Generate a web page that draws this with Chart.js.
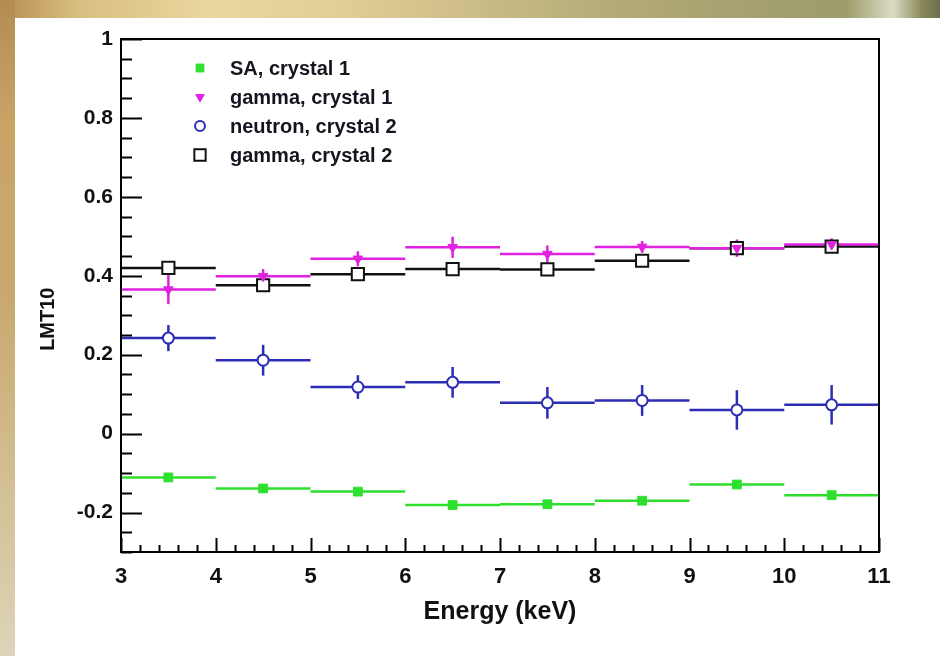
<!DOCTYPE html>
<html>
<head>
<meta charset="utf-8">
<script src="https://cdn.jsdelivr.net/npm/chart.js@4/dist/chart.umd.min.js"></script>
<style>
  html, body { margin: 0; padding: 0; }
  body { width: 940px; height: 656px; position: relative; overflow: hidden; background: #ffffff; }
  #frameTop {
    position: absolute; left: 0; top: 0; width: 940px; height: 18px;
    background: linear-gradient(90deg, #b48c52 0%, #d8bd80 8%, #ead79e 22%, #e2cf96 35%, #cdbd86 50%, #b4ab78 65%, #a4a070 80%, #9c9c6c 90%, #dcdcc4 95%, #8a8a5c 98%, #6e6e4c 100%);
  }
  #frameLeft {
    position: absolute; left: 0; top: 0; width: 15px; height: 656px;
    background: linear-gradient(180deg, #b48c52 0%, #c9a566 20%, #c8a86e 45%, #d2bc8e 70%, #ddd4ba 100%);
  }
  #panel { position: absolute; left: 15px; top: 18px; width: 925px; height: 638px; background: #ffffff; }
  canvas { display: block; }
</style>
</head>
<body>
<div id="frameTop"></div>
<div id="frameLeft"></div>
<div id="panel"><canvas id="chart" width="925" height="638"></canvas></div>
<script>
// Bin centres (keV); each bin spans +/- binHalfWidth
const energy = [3.5, 4.5, 5.5, 6.5, 7.5, 8.5, 9.5, 10.5];
const binHalfWidth = 0.5;

// LMT10 per energy bin with statistical uncertainties
const saCrystal1 = [-0.111, -0.139, -0.147, -0.181, -0.179, -0.170, -0.129, -0.156];
const saCrystal1Err = [0.008, 0.007, 0.007, 0.008, 0.008, 0.008, 0.008, 0.007];
const gammaCrystal1 = [0.365, 0.399, 0.443, 0.472, 0.455, 0.473, 0.470, 0.479];
const gammaCrystal1Err = [0.037, 0.018, 0.019, 0.027, 0.022, 0.015, 0.022, 0.016];
const neutronCrystal2 = [0.242, 0.186, 0.118, 0.130, 0.078, 0.084, 0.060, 0.073];
const neutronCrystal2Err = [0.033, 0.039, 0.030, 0.039, 0.040, 0.039, 0.050, 0.050];
const gammaCrystal2 = [0.420, 0.376, 0.404, 0.417, 0.416, 0.438, 0.470, 0.474];
const gammaCrystal2Err = [0.008, 0.008, 0.008, 0.008, 0.008, 0.008, 0.008, 0.008];

const seriesLabels = ['SA, crystal 1', 'gamma, crystal 1', 'neutron, crystal 2', 'gamma, crystal 2'];
const yTickValues = [-0.2, 0, 0.2, 0.4, 0.6, 0.8, 1];
const yTitle = 'LMT10';

const GREEN = '#2ee02e';
const MAGENTA = '#e021e0';
const BLUE = '#2c2cb4';
const BLACK = '#111111';
const FONT = '"Liberation Sans", Arial, sans-serif';

function points(vals) {
  return vals.map((v, i) => ({ x: energy[i], y: v }));
}

const datasets = [
  { label: seriesLabels[0], data: points(saCrystal1), err: saCrystal1Err, lineColor: GREEN,
    pointStyle: 'rect', pointRadius: 6.2, pointBackgroundColor: GREEN, pointBorderColor: GREEN, pointBorderWidth: 1, pointRotation: 0 },
  { label: seriesLabels[1], data: points(gammaCrystal1), err: gammaCrystal1Err, lineColor: MAGENTA,
    pointStyle: 'triangle', pointRadius: 5.5, pointBackgroundColor: MAGENTA, pointBorderColor: MAGENTA, pointBorderWidth: 1, pointRotation: 180 },
  { label: seriesLabels[2], data: points(neutronCrystal2), err: neutronCrystal2Err, lineColor: BLUE,
    pointStyle: 'circle', pointRadius: 5.5, pointBackgroundColor: '#ffffff', pointBorderColor: BLUE, pointBorderWidth: 2, pointRotation: 0 },
  { label: seriesLabels[3], data: points(gammaCrystal2), err: gammaCrystal2Err, lineColor: BLACK,
    pointStyle: 'rect', pointRadius: 8.6, pointBackgroundColor: '#ffffff', pointBorderColor: BLACK, pointBorderWidth: 2, pointRotation: 0 }
];

// Horizontal bin-width bars and vertical error bars, under the markers
const errorBars = {
  id: 'errorBars',
  beforeDatasetsDraw(chart) {
    const { ctx, scales: { x, y } } = chart;
    ctx.save();
    ctx.lineCap = 'butt';
    [3, 1, 2, 0].forEach(di => {
      const ds = chart.data.datasets[di];
      ctx.strokeStyle = ds.lineColor;
      ctx.lineWidth = 2.5;
      ds.data.forEach((p, i) => {
        const px0 = x.getPixelForValue(p.x - binHalfWidth);
        const px1 = x.getPixelForValue(p.x + binHalfWidth);
        const py = y.getPixelForValue(p.y);
        ctx.beginPath();
        ctx.moveTo(px0, py);
        ctx.lineTo(px1, py);
        ctx.stroke();
        const e = ds.err[i];
        const pxc = x.getPixelForValue(p.x);
        ctx.beginPath();
        ctx.moveTo(pxc, y.getPixelForValue(p.y + e));
        ctx.lineTo(pxc, y.getPixelForValue(p.y - e));
        ctx.stroke();
      });
    });
    ctx.restore();
  }
};

// Axis frame with inward major/minor ticks on the left and bottom, plus the y title
const frameTicks = {
  id: 'frameTicks',
  afterDraw(chart) {
    const { ctx, chartArea: a, scales: { x, y } } = chart;
    ctx.save();
    ctx.strokeStyle = '#000000';
    ctx.lineWidth = 2;
    ctx.strokeRect(a.left, a.top, a.right - a.left, a.bottom - a.top);
    ctx.beginPath();
    for (let k = 0; k <= 26; k++) {
      const v = -0.3 + k * 0.05;
      const major = Math.abs(Math.round(v / 0.2) * 0.2 - v) < 1e-6;
      const py = Math.round(y.getPixelForValue(v)) + 0.5;
      ctx.moveTo(a.left, py);
      ctx.lineTo(a.left + (major ? 21 : 11), py);
    }
    for (let k = 0; k <= 40; k++) {
      const v = 3 + k * 0.2;
      const major = k % 5 === 0;
      const px = Math.round(x.getPixelForValue(v)) + 0.5;
      ctx.moveTo(px, a.bottom);
      ctx.lineTo(px, a.bottom - (major ? 14 : 7));
    }
    ctx.stroke();

    // rotated y-axis title, sitting a little below the axis centre
    ctx.translate(33, y.getPixelForValue(0.29));
    ctx.rotate(-Math.PI / 2);
    ctx.font = 'bold 20px ' + FONT;
    ctx.fillStyle = '#111111';
    ctx.textAlign = 'center';
    ctx.textBaseline = 'middle';
    ctx.fillText(yTitle, 0, 0);
    ctx.restore();
  }
};

// Legend box in the upper-left of the plot
const insetLegend = {
  id: 'insetLegend',
  afterDraw(chart) {
    const { ctx } = chart;
    ctx.save();
    ctx.font = 'bold 20px ' + FONT;
    ctx.textBaseline = 'middle';
    ctx.textAlign = 'left';
    const mx = 185, tx = 215, y0 = 50, dy = 29;
    chart.data.datasets.forEach((ds, i) => {
      const cy = y0 + i * dy;
      ctx.fillStyle = ds.pointBackgroundColor;
      ctx.strokeStyle = ds.pointBorderColor;
      ctx.lineWidth = ds.pointBorderWidth;
      const r = ds.pointStyle === 'rect' && ds.pointRadius > 8 ? 8 : ds.pointRadius * 0.9;
      Chart.helpers.drawPoint(ctx, { pointStyle: ds.pointStyle, rotation: ds.pointRotation, radius: r, borderWidth: ds.pointBorderWidth }, mx, cy);
      ctx.fillStyle = '#151520';
      ctx.fillText(ds.label, tx, cy + 1);
    });
    ctx.restore();
  }
};

new Chart(document.getElementById('chart'), {
  type: 'scatter',
  data: { datasets },
  options: {
    responsive: false,
    devicePixelRatio: 1,
    animation: false,
    layout: { padding: { top: 21, right: 61, left: 0, bottom: 0 } },
    plugins: { legend: { display: false }, tooltip: { enabled: false } },
    scales: {
      x: {
        type: 'linear', min: 3, max: 11,
        grid: { display: false, drawTicks: false },
        border: { display: false },
        ticks: { stepSize: 1, padding: 12, color: '#111111', font: { family: FONT, weight: 'bold', size: 22 } },
        title: { display: true, text: 'Energy (keV)', color: '#111111', padding: { top: 0, bottom: 29 },
                 font: { family: FONT, weight: 'bold', size: 25 } },
        afterFit(scale) { scale.height = 104; }
      },
      y: {
        type: 'linear', min: -0.3, max: 1,
        grid: { display: false, drawTicks: false },
        border: { display: false },
        afterBuildTicks(scale) { scale.ticks = yTickValues.map(v => ({ value: v })); },
        ticks: { padding: 8, color: '#111111', font: { family: FONT, weight: 'bold', size: 21 },
                 callback: v => String(Math.round(v * 10) / 10) },
        afterFit(scale) { scale.width = 106; }
      }
    }
  },
  plugins: [errorBars, frameTicks, insetLegend]
});
</script>
</body>
</html>
